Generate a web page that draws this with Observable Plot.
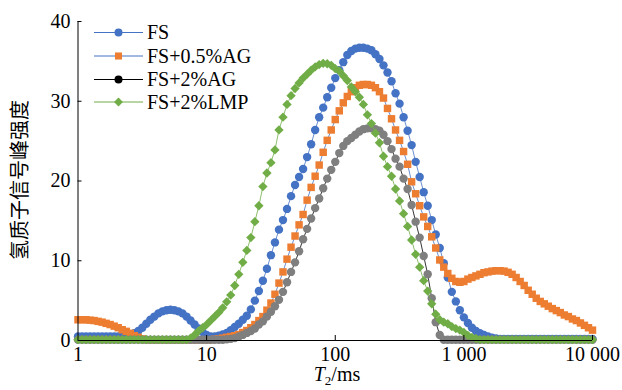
<!DOCTYPE html>
<html><head><meta charset="utf-8">
<script src="https://cdn.jsdelivr.net/npm/d3@7"></script>
<script src="https://cdn.jsdelivr.net/npm/@observablehq/plot@0.6"></script>
<style>
html,body{margin:0;padding:0;background:#fff;}
#chart{width:622px;height:390px;}
</style></head><body><div id="chart"></div>
<script>
const seriesNames = ["FS", "FS+0.5%AG", "FS+2%AG", "FS+2%LMP"];
const markerColors = ["#4472C4", "#ED7D31", "#7F7F7F", "#70AD47"];
const lineColors = ["#4472C4", "#4472C4", "#000000", "#70AD47"];
const legendMarkerColors = ["#4472C4", "#ED7D31", "#000000", "#70AD47"];
const symbols = ["circle", "square", "circle", "diamond2"];
const xTicks = [1, 10, 100, 1000, 10000];
const yTicks = [0, 10, 20, 30, 40];

// T2 sampling grid of the inversion (32 points per decade, 1–10 000 ms)
const t2 = d3.range(129).map(i => +(10 ** (i / 32)).toPrecision(5));

const fs = [
0.5,0.5,0.5,0.5,0.5,0.5,0.5,0.5,0.5,0.5,
0.5,0.5,0.6,0.7,0.9,1.2,1.6,2.1,2.6,3.0,
3.4,3.65,3.8,3.85,3.8,3.65,3.4,3.0,2.5,2.0,
1.5,1.05,0.7,0.5,0.5,0.6,0.75,0.95,1.3,1.7,
2.1,2.6,3.1,3.9,5.0,6.2,7.5,9.0,10.7,12.3,
13.9,15.1,16.5,18.1,19.5,20.5,21.5,23.0,24.6,26.4,
28.0,29.2,30.5,31.7,32.9,33.9,34.9,35.8,36.3,36.6,
36.7,36.7,36.6,36.4,35.9,35.3,34.5,33.6,32.5,31.0,
29.7,28.0,26.3,24.5,22.4,20.5,18.6,16.9,15.1,13.3,
11.6,9.7,7.9,6.1,4.9,3.8,2.9,2.2,1.6,1.2,
0.9,0.7,0.5,0.35,0.25,0.2,0.2,0.2,0.2,0.2,
0.2,0.2,0.2,0.2,0.2,0.2,0.2,0.2,0.2,0.2,
0.2,0.2,0.2,0.2,0.2,0.2,0.2,0.2,0.2
];
const fsAG05 = [
2.6,2.6,2.6,2.55,2.5,2.4,2.3,2.15,2.0,1.8,
1.6,1.35,1.15,0.9,0.6,0.4,0.2,0.1,0.1,0.1,
0.1,0.1,0.1,0.1,0.1,0.1,0.1,0.1,0.1,0.1,
0.1,0.1,0.1,0.1,0.15,0.2,0.3,0.4,0.5,0.6,
0.75,1.0,1.25,1.6,2.0,2.5,3.0,3.8,4.7,5.8,
7.2,8.6,10.2,11.7,13.1,14.5,15.8,17.6,19.2,20.6,
22.0,23.6,25.1,26.4,27.7,28.8,29.8,30.6,31.2,31.7,
32.0,32.1,32.1,32.0,31.7,31.2,30.4,29.1,27.8,26.4,
25.1,23.7,22.1,19.9,18.4,16.9,15.5,14.3,13.0,11.6,
10.1,9.2,8.4,7.8,7.4,7.3,7.4,7.7,7.9,8.1,
8.3,8.5,8.6,8.7,8.75,8.75,8.7,8.55,8.3,7.9,
7.4,6.9,6.3,5.8,5.3,4.9,4.6,4.3,4.0,3.75,
3.5,3.2,3.0,2.7,2.5,2.2,1.9,1.6,1.3
];
const fsAG2 = [
0.1,0.1,0.1,0.1,0.1,0.1,0.1,0.1,0.1,0.1,
0.1,0.1,0.1,0.1,0.1,0.1,0.1,0.1,0.1,0.1,
0.1,0.1,0.1,0.1,0.1,0.1,0.1,0.1,0.1,0.1,
0.1,0.1,0.1,0.1,0.1,0.1,0.1,0.15,0.2,0.3,
0.5,0.7,0.95,1.2,1.5,2.0,2.4,3.0,3.6,4.3,
5.1,6.1,7.3,8.6,9.8,11.2,12.7,14.0,15.3,16.6,
17.8,19.1,20.3,21.4,22.4,23.5,24.4,25.0,25.4,25.8,
26.2,26.5,26.6,26.6,26.5,26.3,25.8,25.0,24.0,22.8,
21.8,20.3,19.0,17.0,14.9,12.9,10.6,8.3,5.3,2.3,
0.7,0.1,0.1,0.1,0.1,0.1,0.1,0.1,0.1,0.1,
0.1,0.1,0.1,0.1,0.1,0.1,0.1,0.1,0.1,0.1,
0.1,0.1,0.1,0.1,0.1,0.1,0.1,0.1,0.1,0.1,
0.1,0.1,0.1,0.1,0.1,0.1,0.1,0.1,0.1
];
const fsLMP2 = [
0.1,0.1,0.1,0.1,0.1,0.1,0.1,0.1,0.1,0.1,
0.1,0.1,0.1,0.1,0.1,0.1,0.1,0.1,0.1,0.1,
0.1,0.1,0.1,0.1,0.1,0.1,0.1,0.1,0.3,0.7,
1.2,1.6,2.0,2.5,3.0,3.5,4.1,4.85,5.7,6.9,
8.3,9.8,11.3,12.9,14.9,16.9,19.3,21.0,22.3,23.9,
26.4,28.0,29.6,30.7,31.6,32.3,32.9,33.4,33.9,34.3,
34.6,34.75,34.7,34.5,34.1,33.8,33.2,32.6,31.8,31.2,
30.5,29.6,28.3,27.2,26.0,24.8,23.1,21.8,20.6,19.0,
17.5,15.9,14.3,12.6,10.8,9.2,7.5,6.2,4.6,3.3,
2.6,2.3,2.1,1.75,1.5,1.3,1.0,0.65,0.4,0.25,
0.1,0.1,0.1,0.1,0.1,0.1,0.1,0.1,0.1,0.1,
0.1,0.1,0.1,0.1,0.1,0.1,0.1,0.1,0.1,0.1,
0.1,0.1,0.1,0.1,0.1,0.1,0.1,0.1,0.1
];

const seriesValues = [fs, fsAG05, fsAG2, fsLMP2];
const series = seriesValues.map((vals, k) => vals.map((v, i) => ({t: t2[i], v, s: seriesNames[k]})));

const mL = 77.5, mR = 30, mT = 21, mB = 50, W = 622, H = 390;
const plotW = W - mL - mR, plotH = H - mT - mB;
const fmt = d => d >= 1000 ? d3.format(",")(d).replace(/,/g, " ") : String(d);

const dataMarks = [];
series.forEach((data, k) => {
  dataMarks.push(Plot.line(data, {x: "t", y: "v", stroke: lineColors[k], strokeWidth: 0.8}));
  dataMarks.push(Plot.dot(data, {x: "t", y: "v", symbol: symbols[k], r: 4.2, fill: markerColors[k], stroke: "none"}));
});

const chart = Plot.plot({
  width: W, height: H,
  marginLeft: mL, marginRight: mR, marginTop: mT, marginBottom: mB,
  x: {type: "log", domain: [1, 10000]},
  y: {domain: [0, 40]},
  style: {fontFamily: "'Liberation Serif', 'Times New Roman', serif", fontSize: "20px", color: "#000", background: "#fff", overflow: "visible"},
  marks: [
    ...dataMarks,
    Plot.ruleX([1], {stroke: "#000", strokeWidth: 1}),
    Plot.ruleY([0], {stroke: "#000", strokeWidth: 1}),
    Plot.tickX(xTicks.slice(1), {x: d => d, insetTop: plotH - 5, stroke: "#000"}),
    Plot.tickY(yTicks.slice(1), {y: d => d, insetRight: plotW - 4, stroke: "#000"}),
    Plot.axisX(xTicks, {tickSize: 0, tickPadding: 6, tickFormat: fmt, label: null, fontSize: 20}),
    Plot.axisY(yTicks, {tickSize: 0, tickPadding: 7.5, label: null, fontSize: 20})
  ]
});
document.getElementById("chart").appendChild(chart);

const svg = d3.select(chart);
// legend
const legendRows = [32.5, 56, 79.5, 102];
const symTypes = {circle: d3.symbolCircle, square: d3.symbolSquare, diamond2: d3.symbolDiamond2};
const lg = svg.append("g").attr("text-anchor", "start");
seriesNames.forEach((name, k) => {
  const y = legendRows[k];
  lg.append("line").attr("x1", 94).attr("x2", 143).attr("y1", y).attr("y2", y)
    .attr("stroke", lineColors[k]).attr("stroke-width", 1);
  lg.append("path").attr("transform", `translate(118.5,${y})`)
    .attr("d", d3.symbol(symTypes[symbols[k]], 16 * Math.PI)())
    .attr("fill", legendMarkerColors[k]);
  lg.append("text").attr("x", 147).attr("y", y + 6.5).attr("text-anchor", "start")
    .attr("font-family", "'Liberation Serif', serif").attr("font-size", 20)
    .attr("fill", "#000").text(name);
});
// y label
svg.append("text").attr("transform", "translate(18.5,180) rotate(-90)")
  .attr("text-anchor", "middle").attr("dominant-baseline", "central")
  .attr("font-family", "'Noto Sans CJK SC', sans-serif").attr("font-size", 20)
  .attr("fill", "#000").text("氢质子信号峰强度");
// x label
const xl = svg.append("text").attr("x", 337).attr("y", 381).attr("text-anchor", "middle")
  .attr("font-family", "'Liberation Serif', serif").attr("font-size", 20).attr("fill", "#000");
xl.append("tspan").attr("font-style", "italic").text("T");
xl.append("tspan").attr("font-size", 13).attr("dy", 4).text("2");
xl.append("tspan").attr("dy", -4).text("/ms");
</script>
</body></html>
